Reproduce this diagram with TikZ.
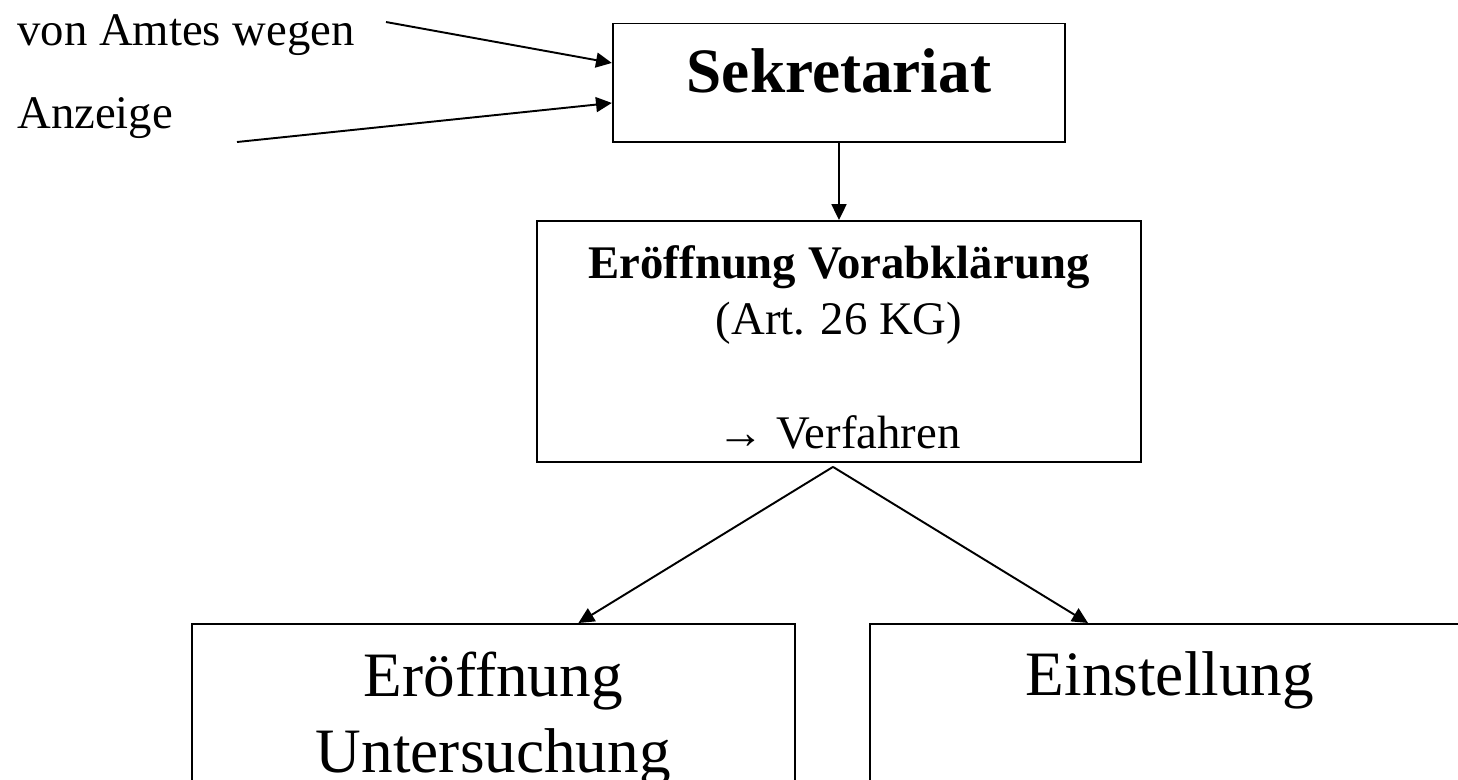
\documentclass[tikz,border=0pt]{standalone}
\usepackage{fontspec}
\setmainfont{Liberation Serif}
\usetikzlibrary{arrows.meta}

\begin{document}
\begin{tikzpicture}[x=0.02cm,y=-0.02cm]
\tikzstyle{box}=[draw,line width=1.1pt,inner sep=0pt,align=center,anchor=north]
\tikzstyle{pfeil}=[-{Triangle[length=9pt,width=8.5pt]},line width=1.1pt]
\tikzstyle{quelle}=[inner sep=0pt,anchor=base west,font=\fontsize{26.6}{32}\selectfont]

\path[use as bounding box,clip] (0,0) rectangle (1458,779);

\node[quelle] (amt) at (17,45) {von Amtes wegen};
\node[quelle] (anz) at (17,128) {Anzeige};
\coordinate (amtstart) at (386,22);
\coordinate (anzstart) at (237,142);

\node[box,minimum width=9.05cm,text height=1.39cm,text depth=0.99cm,
  font=\fontsize{36}{43}\selectfont\bfseries] (sek) at (839,22.5) {Sekretariat};

% mehrzeilig: Grundlinie = letzte Zeile
\node[box,minimum width=12.08cm,text height=4.56cm,text depth=0.26cm,
  font=\fontsize{26.6}{32}\selectfont] (vorab) at (839,220)
  {\textbf{Eröffnung Vorabklärung}\\(Art. 26 KG)\\[33pt]→ Verfahren};

\node[box,minimum width=12.06cm,text height=2.98cm,text depth=5cm,
  font=\fontsize{36}{43.6}\selectfont] (unters) at (493.4,623) {Eröffnung\\Untersuchung};
\node[box,minimum width=12cm,text height=1.44cm,text depth=5cm,
  font=\fontsize{36}{43.6}\selectfont] (einst) at (1170,623) {Einstellung};

\draw[pfeil] (amtstart) -- ([yshift=0.4cm]sek.west);
\draw[pfeil] (anzstart) -- ([yshift=-0.4cm]sek.west);
\draw[pfeil] (sek.south) -- (vorab.north);

\coordinate (gabel) at ([xshift=-0.12cm,yshift=-0.08cm]vorab.south);
\draw[pfeil] (gabel) -- ([xshift=1.7cm]unters.north);
\draw[pfeil] (gabel) -- ([xshift=-1.64cm]einst.north);

\end{tikzpicture}
\end{document}
